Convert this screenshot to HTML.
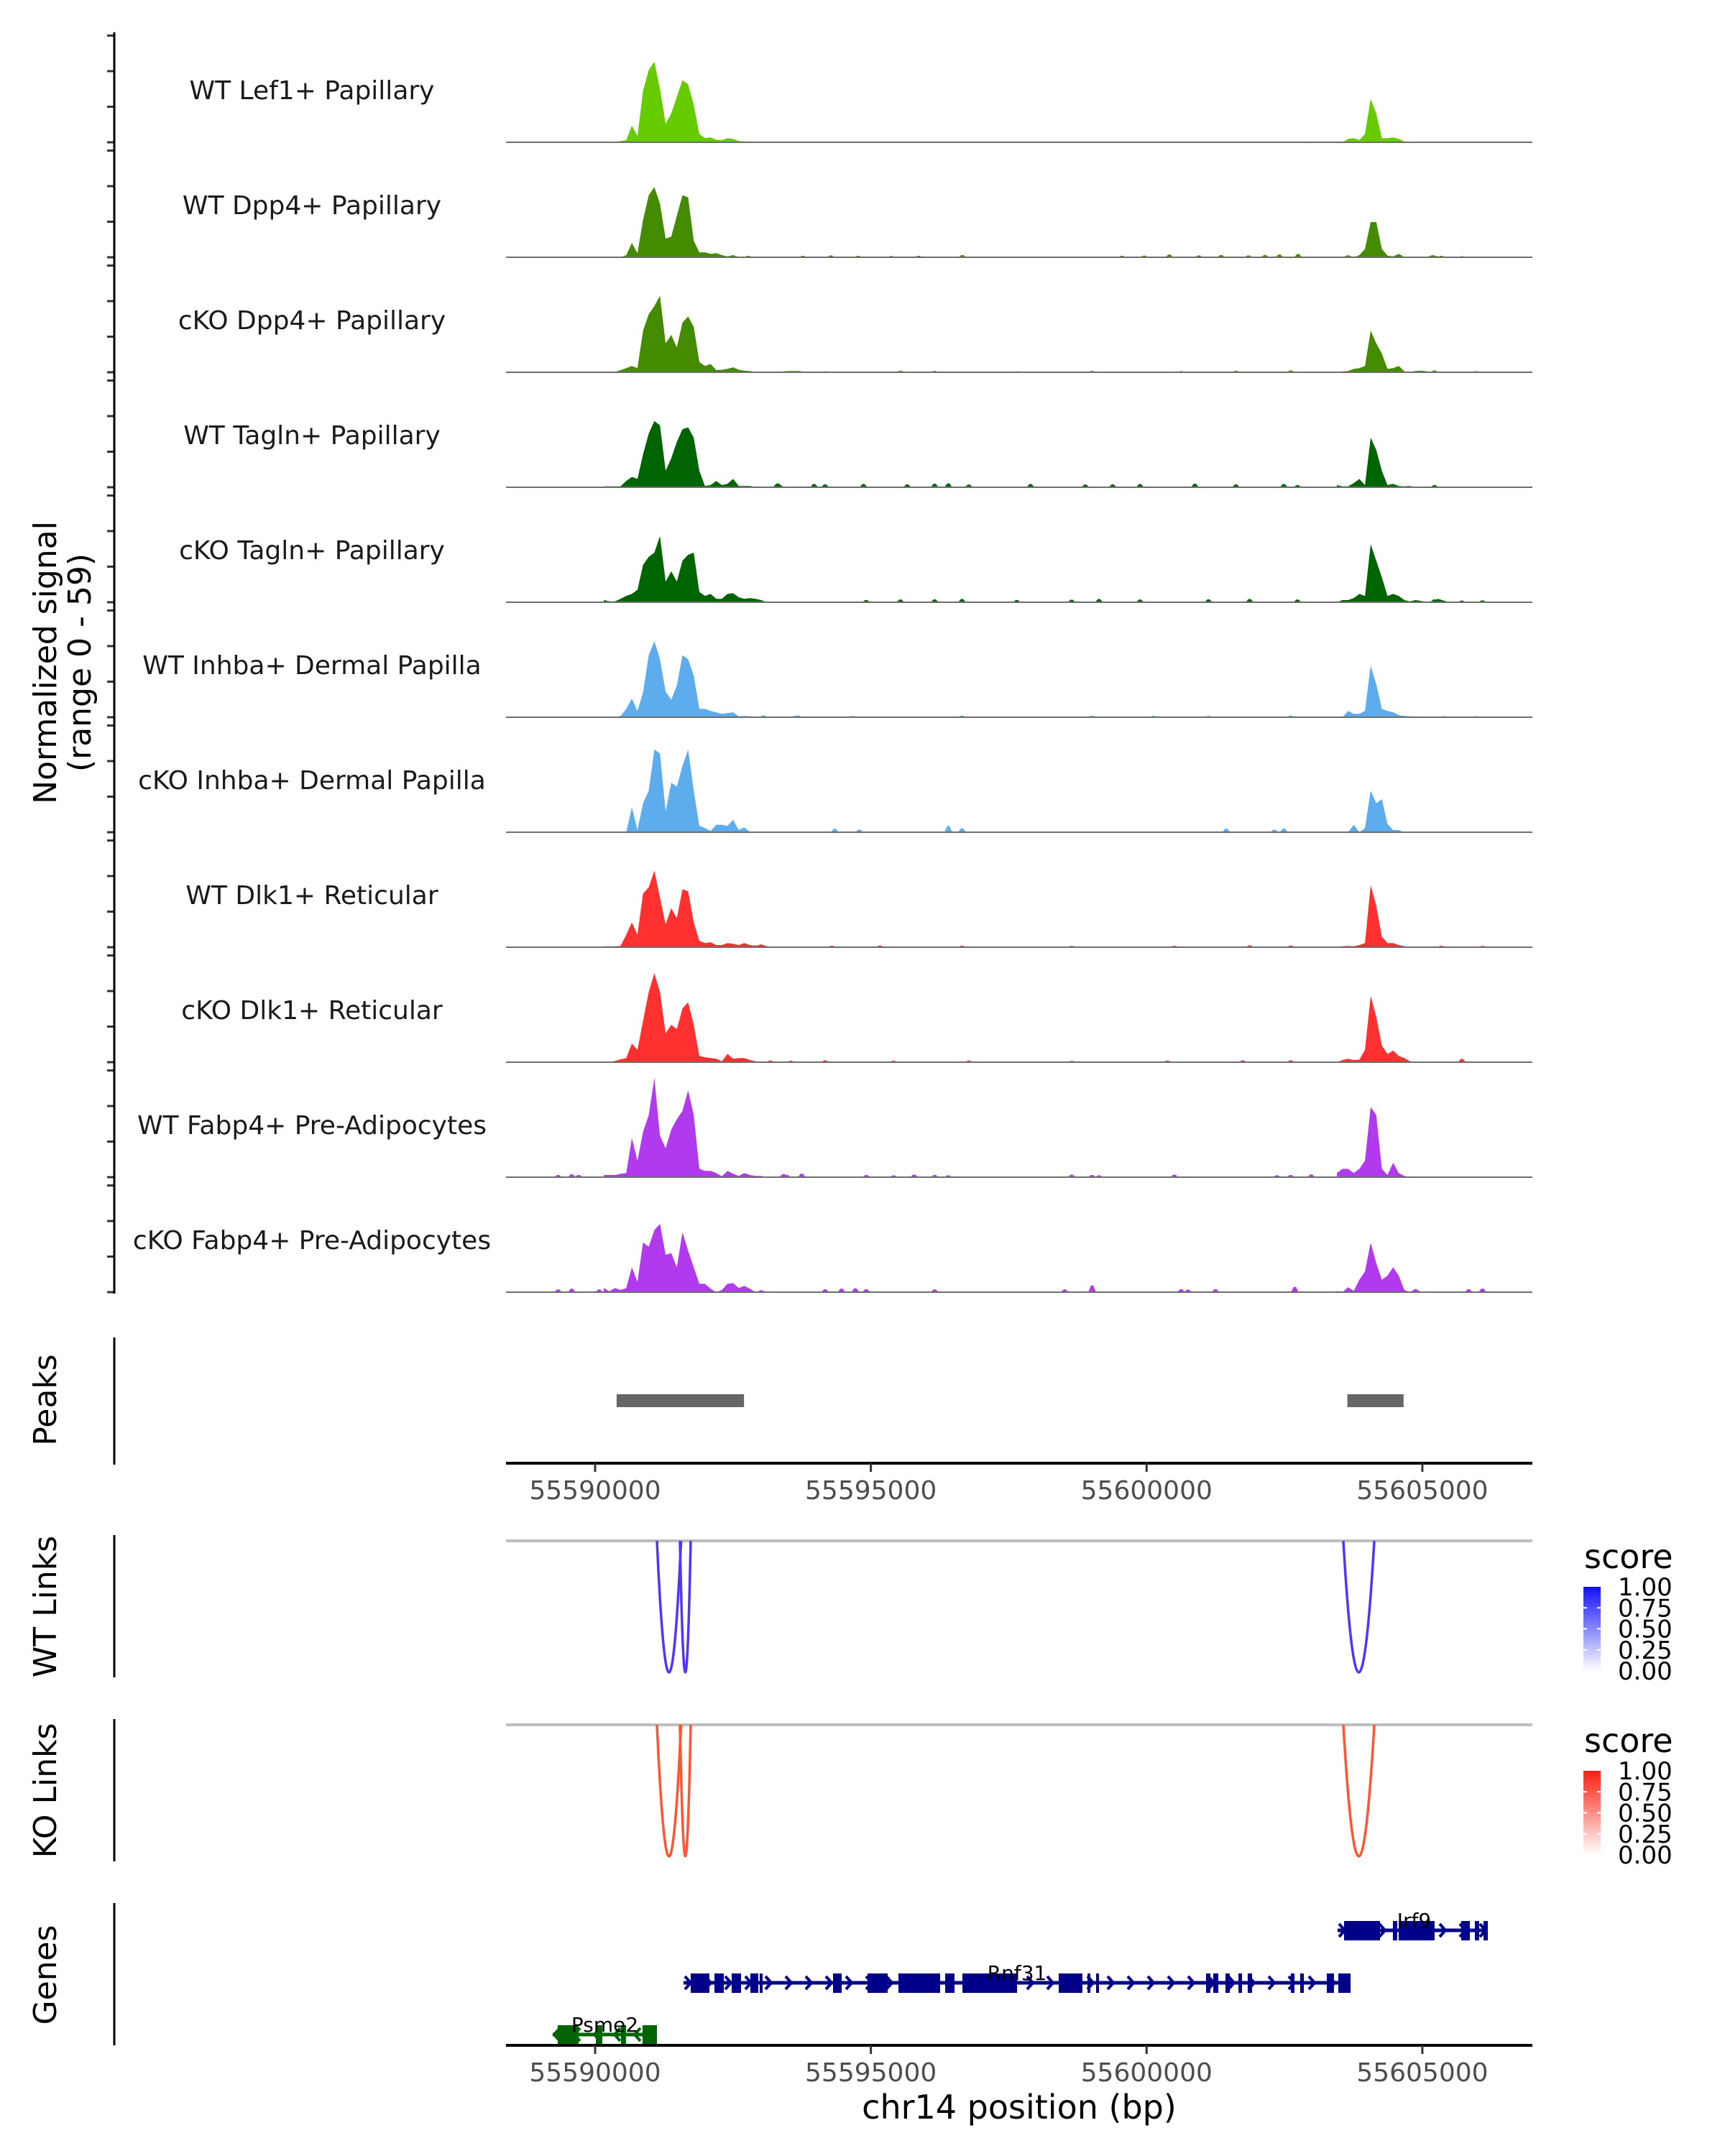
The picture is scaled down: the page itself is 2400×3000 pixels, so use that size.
<!DOCTYPE html>
<html><head><meta charset="utf-8"><style>
html,body{margin:0;padding:0;background:#fff}
svg{display:block}
text{font-family:"DejaVu Sans","Liberation Sans",sans-serif}
</style></head><body>
<svg id="chart" width="2400" height="3000" viewBox="0 0 2400 3000" xmlns="http://www.w3.org/2000/svg">
<rect width="2400" height="3000" fill="#fff"/>
<g id="tracks"></g>
<g id="peaks"></g>
<g id="links"></g>
<g id="genes"></g>
<g id="axes"></g>
</svg>
<script>
// ---- data ----
const trackNames = ["WT Lef1+ Papillary","WT Dpp4+ Papillary","cKO Dpp4+ Papillary","WT Tagln+ Papillary","cKO Tagln+ Papillary","WT Inhba+ Dermal Papilla","cKO Inhba+ Dermal Papilla","WT Dlk1+ Reticular","cKO Dlk1+ Reticular","WT Fabp4+ Pre-Adipocytes","cKO Fabp4+ Pre-Adipocytes"];
const trackColors = ["#66CC00","#458B00","#458B00","#006400","#006400","#5CACEE","#5CACEE","#FF3030","#FF3030","#B23AEE","#B23AEE"];
const region1Start = 55590156, region2Start = 55603450, binSize = 102;
const region1 = [
[0,0,0.2,0.7,1.2,9.3,3.5,29,40.7,45.3,30.2,10.5,16.3,25.6,34.9,32.6,21,4.7,2.3,2.8,1.4,1.2,2.3,1.9,0.7,0.5,0.5,0.2,0.2,0.2,0.2,0.2,0.2,0.2,0.2,0.2],
[0,0,0,0,1.2,8.1,2.3,21,34.9,39.5,30.2,10.5,11.6,23.3,34.9,33.7,9.3,2.8,2.8,1.9,2.3,1.2,0.5,1.2,0.2,0.2,0.5,0,0,0,0,0,0,0,0,0],
[0.2,0.2,0.2,1.2,2.3,3.5,2.3,23.3,32.6,37.2,43,16.3,21,14,27.9,31.4,25.6,5.8,3.5,4.7,1.2,1.4,1.9,2.8,1.4,0.9,0.7,0.2,0.2,0.2,0.2,0.2,0.5,0.7,0.7,0.7],
[0.5,0.5,0.5,0.5,3.5,5.8,4.7,18.6,30.2,37.2,34.9,9.3,16.3,25.6,32.6,33.7,27.9,9.3,0.7,1.2,3.5,1.2,1.9,4.7,0.7,0.7,0.7,0.2,0,0,0,2.3,0,0,0.2,0.5],
[1.2,0.5,0.5,1.9,3.5,4.7,7,21,25.6,27.9,37.2,11.6,17.4,11.6,23.3,26.7,27.9,5.8,3.5,4.7,1.9,1.9,4.7,5.1,2.8,1.9,2.3,1.9,1.2,0,0,0,0,0,0,0],
[0.2,0.2,0.2,0.7,4.7,10.5,3.5,14,34.9,42.8,32.6,14.4,9.8,17.9,34.9,32.6,23.3,4.7,4.7,3.5,2.8,1.9,2.3,2.8,0.5,0.7,0.5,0.2,0.2,0.2,0.2,0.2,0.2,0.2,0.7,0.2],
[0,0,0,0,0,14,1.2,16.3,23.3,46.5,44.2,11.6,27.9,25.6,37.2,46.5,23.3,3.5,2.3,0.7,4.2,4.2,3.5,7,1.2,2.8,0,0,0,0,0,0,0,0,0,0],
[0.5,0.5,0.5,0.7,7,14,7,30.2,33.7,43,27.9,12.8,22,16.3,32.6,31.4,14,3.5,2.3,2.8,1.2,1.2,2.3,1.9,1.2,2.3,1.2,0.7,1.6,0.5,0.2,0.2,0.2,0.2,0.2,0.2],
[0.5,0,0.7,1.6,2.3,10.5,7,23.3,39.5,50,39.5,16.3,21,18.6,30.2,33.7,21,3.5,2.8,2.3,1.9,0.5,4.7,1.9,2.3,2.3,1.2,0.5,0.2,0.2,0.2,0.2,0.2,0.2,0.2,0.2],
[1.2,1.2,1.2,1.9,2.3,22,9.3,25.6,34.9,55.8,23.3,16.3,26.7,32.6,37.2,48.8,34.9,4.7,3.5,3.5,2.3,0.5,3.5,1.9,0.7,2.3,1.2,0.7,0.7,0,0,0,1.9,0,0,0],
[2.3,0.5,2.3,1.2,2.3,14,5.8,27.9,25.6,34.9,38.4,21,22,14,33.7,23.3,14,4.7,4.7,1.9,0,1.2,4.7,5.1,2.3,3.5,1.9,0,1.2,0,0,0,0,0,0,0]
];
const region2 = [
[0,0,1.9,2.3,1.2,4.7,24.4,16.3,2.3,2.3,2.8,1.9,0.5,0.2,0.2,0.2,0.1,0.1,0.1,0.1,0.1],
[0,0,1.2,0,1.2,4.7,19.8,19.8,4.7,0.9,0.5,1.9,0.2,0.2,0.2,0.2,0.2,1.2,0.5,0.2,0.2],
[0.2,0.5,0.7,1.9,2.3,3.5,23.3,16.3,10.5,1.9,2.3,3.5,0.5,0.2,0.7,0.9,0.5,0.2,0.2,0.2,0.2],
[1.2,0.5,0.5,2.3,4.7,1.2,27.9,21,9.3,1.2,1.9,0.7,0.5,0.7,0,0,0,0,0,0,0],
[0,1.2,1.2,2.3,4.7,3.5,32.6,23.3,14,3.5,4.7,3.5,1.2,0.5,1.2,0.7,0.2,0.7,1.9,0.9,0],
[0,0,3.5,1.9,1.9,3.5,29,18.6,4.7,3.5,2.8,1.2,0.7,0.5,0,0.5,0,0,0,0.7,0],
[0,0,0,4.2,0,2.3,23.3,16.3,18.6,4.7,1.2,1.2,0,0,0,0,0,0,0,0,0],
[0,0.5,0.7,0.5,1.2,2.3,34.9,23.3,5.8,2.3,2.3,1.2,0.5,0.2,0.1,0.1,0.1,0.1,0.1,0.1,0.1],
[0,1.2,1.9,1.2,1.4,7,37.2,25.6,9.3,4.7,6.5,3.5,2.3,0.5,0.2,0.2,0.2,0.2,0.2,0.2,0.3],
[2.3,4.7,4.7,2.3,4.7,9.3,39.5,34.9,4.7,1.2,8.1,2.3,0.7,0,0,0,0,0,0,0,0],
[0.7,0,2.8,0.7,7,11.6,27.9,16.3,7,9.3,14,9.3,1.2,0,1.9,0,0,0,0,0,0]
];
const spikes = [
[[55597000,0.4],[55599500,0.4],[55601800,0.4],[55602900,0.5],[55593800,0.4],[55595400,0.3]],
[[55592776,0.8],[55593767,0.8],[55594275,1.0],[55594770,0.8],[55595370,0.7],[55595865,0.8],[55596660,1.2],[55599553,0.8],[55599957,0.9],[55600413,1.5],[55600948,1.0],[55601352,1.2],[55601847,1.0],[55602147,1.2],[55602408,1.5],[55602747,1.8],[55605344,0.8],[55605716,0.6]],
[[55594170,0.5],[55595536,0.8],[55596156,0.7],[55597646,0.5],[55599012,0.7],[55600626,0.6],[55601619,0.8],[55602612,1.0],[55605219,1.0],[55605965,0.6]],
[[55593301,2.0],[55593971,1.8],[55594170,1.6],[55594866,1.8],[55595660,1.6],[55596156,2.0],[55596405,2.2],[55596777,1.5],[55597895,1.8],[55598888,1.5],[55599385,1.6],[55599881,1.8],[55600874,2.0],[55601619,1.6],[55602488,1.8],[55602736,1.2],[55605219,1.2]],
[[55594915,1.2],[55595536,1.5],[55596156,1.6],[55596653,1.8],[55597646,1.2],[55598640,1.4],[55599136,1.8],[55599881,1.5],[55601122,1.6],[55601867,1.8],[55602736,1.5],[55605219,1.6],[55605716,0.9],[55606089,1.0]],
[[55593053,1.0],[55593673,1.0],[55594667,0.7],[55596653,0.9],[55599012,0.8],[55600129,0.8],[55601122,0.7],[55602612,0.9],[55605965,0.6]],
[[55594344,2.0],[55594791,1.4],[55596405,3.5],[55596653,2.2],[55601445,2.0],[55602314,1.4],[55602488,2.0]],
[[55592900,1.0],[55594294,0.8],[55595163,0.9],[55596653,0.8],[55598640,0.7],[55600502,0.8],[55601867,1.0],[55602612,0.9],[55605344,0.8],[55606089,0.7]],
[[55593177,0.9],[55593549,0.8],[55594170,1.0],[55595412,0.8],[55596777,0.9],[55598640,0.7],[55600378,0.9],[55601743,1.0],[55602612,1.0],[55605716,1.8]],
[[55589328,1.2],[55589576,1.6],[55589701,1.2],[55593475,1.2],[55593748,2.0],[55594915,1.2],[55595412,1.0],[55595784,1.4],[55596156,1.2],[55596405,1.0],[55598640,1.4],[55599012,1.2],[55599136,1.0],[55600502,1.4],[55602364,1.0],[55602612,1.2],[55602985,1.5]],
[[55589328,1.5],[55589576,2.0],[55590073,1.5],[55594170,1.6],[55594468,2.0],[55594717,2.2],[55594915,1.6],[55596156,1.5],[55598515,1.5],[55599012,3.8],[55600626,1.6],[55600750,1.4],[55601247,1.6],[55602687,3.0],[55605840,1.6],[55606089,2.0]]
];
const yMax = 59;
const yTickValues = [0,20,40,60];
const xTicks = [55590000,55595000,55600000,55605000];
const peakRegions = [[55590390,55592700],[55603640,55604660]];
const wtLinks = [[55591121,55591558],[55591538,55591733],[55603567,55604128]];
const koLinks = [[55591121,55591558],[55591538,55591733],[55603567,55604128]];
const legendTicks = ["1.00","0.75","0.50","0.25","0.00"];
const geneNames = ["Irf9","Rnf31","Psme2"];
const geneStrand = [1,1,-1];
const geneSpans = [[55603463,55606187],[55591603,55603698],[55589231,55591121]];
const geneExons = [
[[55603580,55604232],[55604466,55604545],[55604571,55605222],[55605704,55605861],[55605952,55606030],[55606109,55606187]],
[[55591733,55592072],[55592164,55592333],[55592476,55592646],[55592815,55592959],[55592985,55593037],[55594314,55594471],[55594940,55595305],[55595500,55596256],[55596347,55596517],[55596660,55597651],[55598406,55598836],[55598928,55598980],[55599084,55599136],[55601078,55601156],[55601208,55601300],[55601430,55601508],[55601665,55601730],[55601834,55601912],[55602616,55602681],[55602785,55602851],[55603267,55603397],[55603476,55603698]],
[[55589322,55589700],[55590013,55590130],[55590469,55590560],[55590860,55591121]]
];
const geneColors = ["#00008B","#00008B","#006400"];

// ---- layout ----
const NS = "http://www.w3.org/2000/svg";
const X0 = 704, X1 = 2132, BP0 = 55588384, BP1 = 55606995;
function xs(bp){ return X0 + (bp-BP0)/(BP1-BP0)*(X1-X0); }
const trackTop = 198, trackStep = 160, trackH = 146;
function ys(v, base){ return base - v/yMax*trackH; }
function mk(tag, attrs, parent, txt){
  const e = document.createElementNS(NS, tag);
  for (const k in attrs) e.setAttribute(k, attrs[k]);
  if (txt !== undefined) e.textContent = txt;
  parent.appendChild(e); return e;
}
const gT = document.getElementById('tracks');
const gA = document.getElementById('axes');

let ax = mk('line',{x1:159,y1:45,x2:159,y2:trackTop+10*trackStep+2,stroke:'#000','stroke-width':3},gA);


let yt = mk('text',{x:0,y:0,'font-size':44,'text-anchor':'middle',transform:'translate(78,922) rotate(-90)'},gA);


mk('tspan',{x:0,dy:0},yt,'Normalized signal');
mk('tspan',{x:0,dy:48},yt,'(range 0 - 59)');

trackNames.forEach((name,i)=>{
  const base = trackTop + i*trackStep;
  const g = mk('g',{},gT);
  
  
  yTickValues.forEach(v=>{
    const t = mk('line',{x1:149,x2:159,y1:ys(v,base),y2:ys(v,base),stroke:'#333','stroke-width':3},g);
    
    
  });
  [[region1[i],region1Start],[region2[i],region2Start]].forEach(([vals,start])=>{
    let d = 'M'+xs(start).toFixed(1)+','+base;
    vals.forEach((v,k)=>{ d += 'L'+xs(start+k*binSize).toFixed(1)+','+ys(v,base).toFixed(1); });
    d += 'L'+xs(start+(vals.length-1)*binSize).toFixed(1)+','+base+'Z';
    const p = mk('path',{d:d,fill:trackColors[i]},g);
    
    
  });
  spikes[i].forEach(([bp,v])=>{
    const d = 'M'+xs(bp-70).toFixed(1)+','+base+'L'+xs(bp-20).toFixed(1)+','+ys(v,base).toFixed(1)+'L'+xs(bp+20).toFixed(1)+','+ys(v,base).toFixed(1)+'L'+xs(bp+70).toFixed(1)+','+base+'Z';
    const p = mk('path',{d:d,fill:trackColors[i]},g);
    
    
  });
  const bl = mk('line',{x1:X0,x2:X1,y1:base,y2:base,stroke:'#6e6e6e','stroke-width':2},g);
  
  
  const lb = mk('text',{x:434,y:base-60,'font-size':36,'text-anchor':'middle',fill:'#1a1a1a'},g,name);
  
  
});

// peaks panel
const gP = document.getElementById('peaks');
let pl = mk('line',{x1:159,x2:159,y1:1861,y2:2038,stroke:'#000','stroke-width':3},gP);


let ptl = mk('text',{x:0,y:0,'font-size':44,'text-anchor':'middle',transform:'translate(78,1948) rotate(-90)'},gP,'Peaks');


peakRegions.forEach(([a,b])=>{
  const r = mk('rect',{x:xs(a),y:1940,width:xs(b)-xs(a),height:18,fill:'#666'},gP);
  
  
});
function xAxis(y, g){
  const l = mk('line',{x1:X0,x2:X1,y1:y,y2:y,stroke:'#000','stroke-width':4},g);
  
  
  xTicks.forEach(t=>{
    const tk = mk('line',{x1:xs(t),x2:xs(t),y1:y,y2:y+12,stroke:'#333','stroke-width':3},g);
    
    
    const tl = mk('text',{x:xs(t),y:y+50,'font-size':36,'text-anchor':'middle',fill:'#4d4d4d'},g,String(t));
    
    
  });
}
xAxis(2036, gP);

// links
const gL = document.getElementById('links');
function linkPanel(title, links, lineY, bottomY, color, gradTop, legendY, key){
  const g = mk('g',{},gL);
  
  
  const al = mk('line',{x1:159,x2:159,y1:lineY-8,y2:bottomY+7,stroke:'#000','stroke-width':3},g);
  
  
  const tt = mk('text',{x:0,y:0,'font-size':44,'text-anchor':'middle',transform:'translate(78,'+((lineY+bottomY)/2)+') rotate(-90)'},g,title);
  
  
  const gl = mk('line',{x1:X0,x2:X1,y1:lineY,y2:lineY,stroke:'#bebebe','stroke-width':4},g);
  
  
  links.forEach(([a,b])=>{
    const xa=xs(a), xb=xs(b), cy = lineY + 2*(bottomY-lineY);
    const p = mk('path',{d:'M'+xa+','+lineY+' Q'+((xa+xb)/2)+','+cy+' '+xb+','+lineY,fill:'none',stroke:color,'stroke-width':3.5},g);
    
    
  });
  const lt = mk('text',{x:2204,y:legendY,'font-size':46},g,'score');
  
  
  const gid = 'grad-'+key;
  const defs = mk('defs',{},g);
  const lg = mk('linearGradient',{id:gid,x1:0,y1:0,x2:0,y2:1},defs);
  mk('stop',{offset:0,'stop-color':gradTop},lg);
  mk('stop',{offset:1,'stop-color':'#ffffff'},lg);
  const cb = mk('rect',{x:2203,y:legendY+26,width:24,height:117,fill:'url(#'+gid+')'},g);
  
  
  legendTicks.forEach((s,k)=>{
    const yy = legendY+26 + k*117/4;
    if(k>0 && k<4){
      mk('line',{x1:2203,x2:2208,y1:yy,y2:yy,stroke:'#fff','stroke-width':2},g);
      mk('line',{x1:2222,x2:2227,y1:yy,y2:yy,stroke:'#fff','stroke-width':2},g);
    }
    const tl = mk('text',{x:2251,y:yy+12,'font-size':34},g,s);
    
    
  });
}
linkPanel('WT Links', wtLinks, 2144, 2327, '#5533FF', '#1010ff', 2182, 'wt');
linkPanel('KO Links', koLinks, 2400, 2583, '#FF5533', '#ff2010', 2438, 'ko');

// genes
const gG = document.getElementById('genes');
let gl2 = mk('line',{x1:159,x2:159,y1:2648,y2:2846,stroke:'#000','stroke-width':3},gG);


let gtl = mk('text',{x:0,y:0,'font-size':44,'text-anchor':'middle',transform:'translate(78,2748) rotate(-90)'},gG,'Genes');


const rowY = [2686,2759,2831];
geneNames.forEach((name,i)=>{
  const g = mk('g',{},gG);
  
  
  const c = geneColors[i], y = rowY[i];
  const [s,e] = geneSpans[i];
  mk('line',{x1:xs(s),x2:xs(e),y1:y,y2:y,stroke:c,'stroke-width':5},g);
  for(let x = xs(s)+6; x < xs(e)-4; x += 28){
    const d = geneStrand[i]>0 ? 'M'+(x-4)+','+(y-9)+'L'+(x+4)+','+y+'L'+(x-4)+','+(y+9)
                              : 'M'+(x+4)+','+(y-9)+'L'+(x-4)+','+y+'L'+(x+4)+','+(y+9);
    mk('path',{d:d,fill:'none',stroke:c,'stroke-width':4},g);
  }
  geneExons[i].forEach(([a,b])=>{
    const r = mk('rect',{x:xs(a),y:y-13,width:Math.max(3,xs(b)-xs(a)),height:27,fill:c},g);
    
    
  });
  const lx = (xs(s)+xs(e))/2 + (i===0?2:0);
  const t = mk('text',{x:lx,y:y-4,'font-size':28,'text-anchor':'middle',fill:'#000'},g,name);
  
  
});
xAxis(2846, gG);
let xt = mk('text',{x:1418,y:2948,'font-size':46,'text-anchor':'middle'},gA,'chr14 position (bp)');


</script>
</body></html>
